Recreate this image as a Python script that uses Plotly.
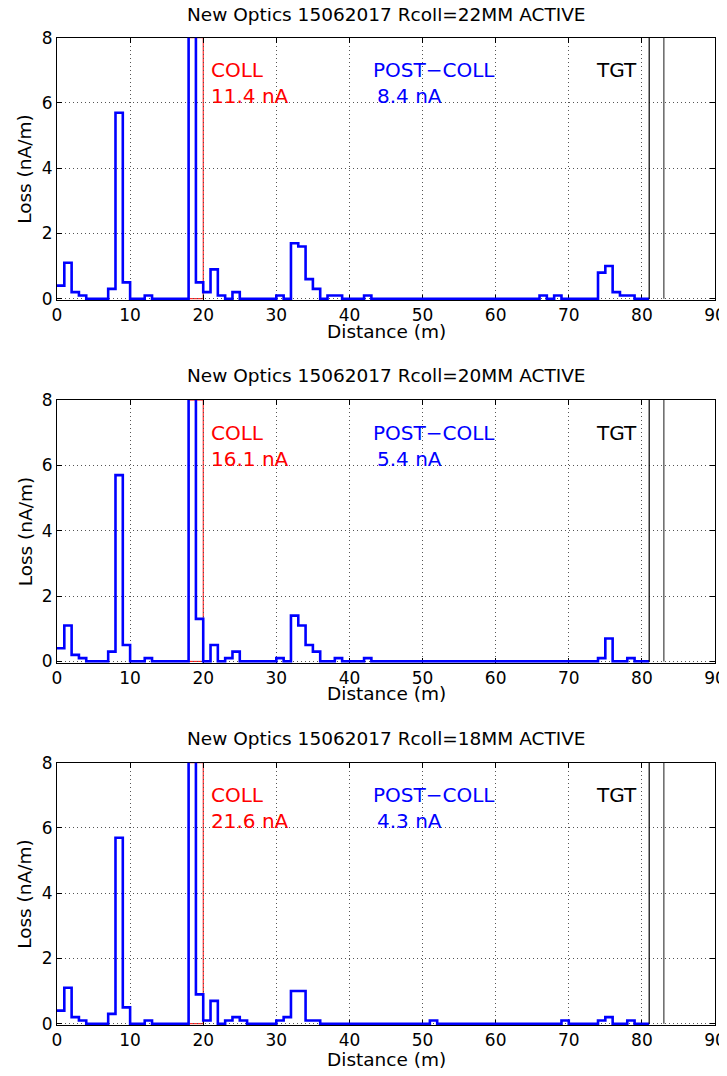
import plotly.graph_objects as go
from plotly.subplots import make_subplots

# page body has an 8 px margin, so the figure is drawn 8 px smaller
OFF = 8
W, H = 727 - OFF, 1076 - OFF

# bin edges (1 m bins, 0..81 m)
bin_edges = list(range(0, 82))

# loss per bin (nA/m), bins 0-1, 1-2, ... 80-81
loss_22mm = [0.4, 1.1, 0.2, 0.1, 0, 0, 0, 0.3, 5.7, 0.5,
             0, 0, 0.1, 0, 0, 0, 0, 0, 10.9, 0.5,
             0.2, 0.9, 0.1, 0, 0.2, 0, 0, 0, 0, 0,
             0.1, 0, 1.7, 1.6, 0.6, 0.3, 0, 0.1, 0.1, 0,
             0, 0, 0.1, 0, 0, 0, 0, 0, 0, 0,
             0, 0, 0, 0, 0, 0, 0, 0, 0, 0,
             0, 0, 0, 0, 0, 0, 0.1, 0, 0.1, 0,
             0, 0, 0, 0, 0.8, 1.0, 0.2, 0.1, 0.1, 0,
             0]
loss_20mm = [0.4, 1.1, 0.2, 0.1, 0, 0, 0, 0.3, 5.7, 0.5,
             0, 0, 0.1, 0, 0, 0, 0, 0, 14.8, 1.3,
             0, 0.5, 0, 0.1, 0.3, 0, 0, 0, 0, 0,
             0.1, 0, 1.4, 1.1, 0.5, 0.3, 0, 0, 0.1, 0,
             0, 0, 0.1, 0, 0, 0, 0, 0, 0, 0,
             0, 0, 0, 0, 0, 0, 0, 0, 0, 0,
             0, 0, 0, 0, 0, 0, 0, 0, 0, 0,
             0, 0, 0, 0, 0.1, 0.7, 0, 0, 0.1, 0,
             0]
loss_18mm = [0.4, 1.1, 0.2, 0.1, 0, 0, 0, 0.3, 5.7, 0.5,
             0, 0, 0.1, 0, 0, 0, 0, 0, 20.7, 0.9,
             0.1, 0.7, 0, 0.1, 0.2, 0.1, 0, 0, 0, 0,
             0.1, 0.2, 1.0, 1.0, 0.1, 0.1, 0, 0, 0, 0,
             0, 0, 0, 0, 0, 0, 0, 0, 0, 0,
             0, 0.1, 0, 0, 0, 0, 0, 0, 0, 0,
             0, 0, 0, 0, 0, 0, 0, 0, 0, 0.1,
             0, 0, 0, 0, 0.1, 0.2, 0, 0, 0.1, 0,
             0]

titles = ["New Optics 15062017 Rcoll=22MM ACTIVE",
          "New Optics 15062017 Rcoll=20MM ACTIVE",
          "New Optics 15062017 Rcoll=18MM ACTIVE"]
coll_labels = ["11.4 nA", "16.1 nA", "21.6 nA"]
post_labels = ["8.4 nA", "5.4 nA", "4.3 nA"]
series = [loss_22mm, loss_20mm, loss_18mm]

coll_region = (18, 20)
tgt_lines = (81, 83)
x_ticks = [0, 10, 20, 30, 40, 50, 60, 70, 80, 90]
y_ticks = [0, 2, 4, 6, 8]

FONT = "DejaVu Sans"

# panel screen-pixel geometry (top, bottom)
panels_px = [(37.7, 300.0), (400.0, 662.7), (762.7, 1025.0)]
title_px = [15, 376, 738]
xlabel_px = [331, 693, 1059]

def py(px):
    return 1 - (px - OFF) / H

fig = make_subplots(rows=3, cols=1)

annotations = []
for i, vals in enumerate(series):
    r = i + 1
    fig.add_shape(type="rect", x0=coll_region[0], x1=coll_region[1], y0=0, y1=8,
                  line=dict(color="#ff0000", width=1), layer="below", row=r, col=1)
    fig.add_trace(go.Scatter(
        x=bin_edges, y=vals + [vals[-1]], mode="lines",
        line=dict(color="#0000ff", width=2.6, shape="hv"),
        showlegend=False, hoverinfo="skip"), row=r, col=1)
    fig.add_shape(type="line", x0=tgt_lines[0], x1=tgt_lines[0], y0=0, y1=8,
                  line=dict(color="black", width=1.2), row=r, col=1)
    fig.add_shape(type="line", x0=tgt_lines[1], x1=tgt_lines[1], y0=0, y1=8,
                  line=dict(color="#707070", width=1.6), row=r, col=1)

    top, bot = panels_px[i]
    dom = [py(bot), py(top)]
    xa = "xaxis" if r == 1 else f"xaxis{r}"
    ya = "yaxis" if r == 1 else f"yaxis{r}"
    common = dict(showgrid=True, gridcolor="#555555", griddash="1px,3px", gridwidth=1,
                  zeroline=False, showline=True, linecolor="black", linewidth=1,
                  mirror="ticks", ticks="inside", ticklen=5, tickcolor="black",
                  tickfont=dict(family=FONT, size=17, color="black"),
                  layer="below traces", fixedrange=True, automargin=False)
    fig.update_layout(**{
        xa: dict(range=[0, 90], tickvals=x_ticks, **common),
        ya: dict(range=[-0.04, 8], tickvals=y_ticks, domain=dom, **common),
    })

    xr = "x" if r == 1 else f"x{r}"
    yr = "y" if r == 1 else f"y{r}"
    txt = dict(xref=xr, yref=yr, xanchor="left", yanchor="middle", showarrow=False)
    annotations += [
        dict(x=20.8, y=7.0, text="COLL", font=dict(family=FONT, size=20, color="#ff0000"), **txt),
        dict(x=20.8, y=6.2, text=coll_labels[i], font=dict(family=FONT, size=20, color="#ff0000"), **txt),
        dict(x=42.9, y=7.0, text="POST\u2212COLL", font=dict(family=FONT, size=20, color="#0000ff"), **txt),
        dict(x=43.5, y=6.2, text=post_labels[i], font=dict(family=FONT, size=20, color="#0000ff"), **txt),
        dict(x=73.4, y=7.0, text="TGT", font=dict(family=FONT, size=20, color="black"), **txt),
        dict(xref="paper", yref="paper", x=0.5, y=py(title_px[i]), xanchor="center", yanchor="middle",
             text=titles[i], showarrow=False, font=dict(family=FONT, size=18.5, color="black")),
        dict(xref="paper", yref="paper", x=0.5, y=py(xlabel_px[i]), xanchor="center", yanchor="middle",
             text="Distance (m)", showarrow=False, font=dict(family=FONT, size=18.5, color="black")),
        dict(xref="paper", yref="paper", x=(25 - 57) / 658, y=(dom[0] + dom[1]) / 2,
             xanchor="center", yanchor="middle", textangle=-90,
             text="Loss (nA/m)", showarrow=False, font=dict(family=FONT, size=18.5, color="black")),
    ]

fig.update_layout(width=W, height=H,
                  margin=dict(l=57 - OFF, r=12, t=0, b=0, autoexpand=False),
                  paper_bgcolor="white", plot_bgcolor="white",
                  annotations=annotations, showlegend=False)

fig.write_html("out.html")
